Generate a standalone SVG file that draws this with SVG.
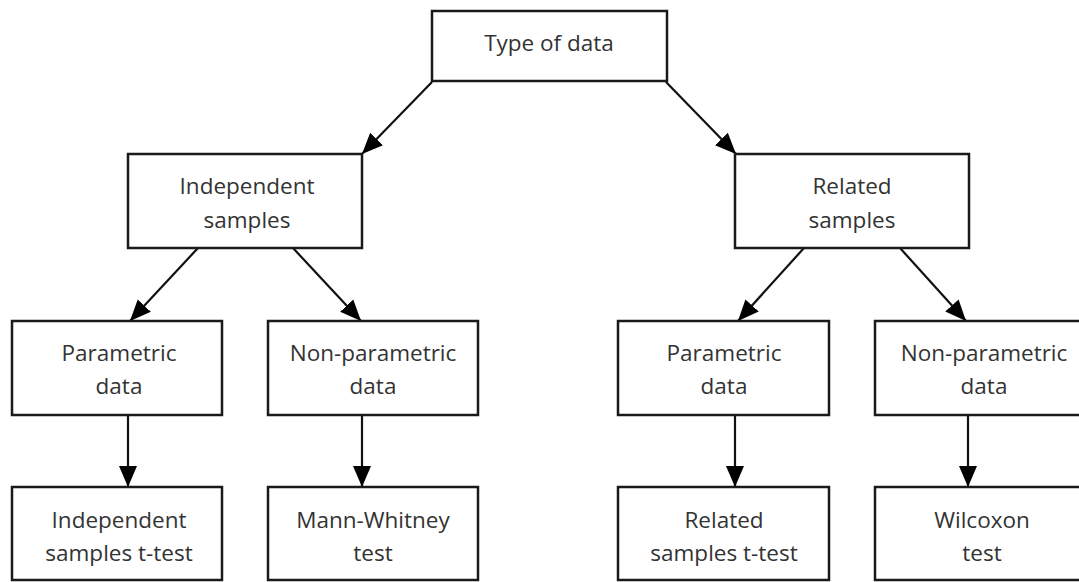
<svg xmlns="http://www.w3.org/2000/svg" width="1079" height="582" viewBox="0 0 1079 582">
<style>
.box{fill:#fff;stroke:#1a1a1a;stroke-width:2.5}
.lbl{font-family:"Open Sans","DejaVu Sans",sans-serif;font-size:22.5px;fill:#333;text-anchor:middle}
.con{stroke:#111;stroke-width:2.2;fill:none;marker-end:url(#ah)}
</style>
<defs>
<marker id="ah" markerUnits="userSpaceOnUse" markerWidth="22" markerHeight="20" viewBox="0 0 22 20" refX="21" refY="10" orient="auto">
<path d="M0,1 L21,10 L0,19 Z" fill="#000"/>
</marker>
</defs>
<rect width="1079" height="582" fill="#fff"/>
<g id="connectors">
<line class="con" x1="432" y1="82" x2="362" y2="154"/>
<line class="con" x1="666" y1="82" x2="736" y2="154"/>
<line class="con" x1="198" y1="248" x2="130" y2="321"/>
<line class="con" x1="293" y1="248" x2="361" y2="321"/>
<line class="con" x1="804" y1="248" x2="738" y2="321"/>
<line class="con" x1="900" y1="248" x2="966" y2="321"/>
<line class="con" x1="128" y1="415" x2="128" y2="487"/>
<line class="con" x1="362" y1="415" x2="362" y2="487"/>
<line class="con" x1="735" y1="415" x2="735" y2="487"/>
<line class="con" x1="968" y1="415" x2="968" y2="487"/>
</g>
<g id="type-of-data">
<rect class="box" x="432" y="11" width="235" height="70"/>
<text class="lbl" x="549" y="51">Type of data</text>
</g>
<g id="independent-samples">
<rect class="box" x="128" y="154" width="234" height="94"/>
<text class="lbl" x="247" y="194">Independent</text>
<text class="lbl" x="247" y="228">samples</text>
</g>
<g id="related-samples">
<rect class="box" x="735" y="154" width="234" height="94"/>
<text class="lbl" x="852" y="194">Related</text>
<text class="lbl" x="852" y="228">samples</text>
</g>
<g id="ind-parametric">
<rect class="box" x="12" y="321" width="210" height="94"/>
<text class="lbl" x="119" y="361">Parametric</text>
<text class="lbl" x="119" y="394">data</text>
</g>
<g id="ind-nonparametric">
<rect class="box" x="268" y="321" width="210" height="94"/>
<text class="lbl" x="373" y="361">Non-parametric</text>
<text class="lbl" x="373" y="394">data</text>
</g>
<g id="rel-parametric">
<rect class="box" x="618" y="321" width="211" height="94"/>
<text class="lbl" x="724" y="361">Parametric</text>
<text class="lbl" x="724" y="394">data</text>
</g>
<g id="rel-nonparametric">
<rect class="box" x="875" y="321" width="218" height="94"/>
<text class="lbl" x="984" y="361">Non-parametric</text>
<text class="lbl" x="984" y="394">data</text>
</g>
<g id="ind-t-test">
<rect class="box" x="12" y="487" width="210" height="93"/>
<text class="lbl" x="119" y="528">Independent</text>
<text class="lbl" x="119" y="561">samples t-test</text>
</g>
<g id="mann-whitney">
<rect class="box" x="268" y="487" width="210" height="93"/>
<text class="lbl" x="373" y="528">Mann-Whitney</text>
<text class="lbl" x="373" y="561">test</text>
</g>
<g id="rel-t-test">
<rect class="box" x="618" y="487" width="211" height="93"/>
<text class="lbl" x="724" y="528">Related</text>
<text class="lbl" x="724" y="561">samples t-test</text>
</g>
<g id="wilcoxon">
<rect class="box" x="875" y="487" width="218" height="93"/>
<text class="lbl" x="982" y="528">Wilcoxon</text>
<text class="lbl" x="982" y="561">test</text>
</g>
</svg>
